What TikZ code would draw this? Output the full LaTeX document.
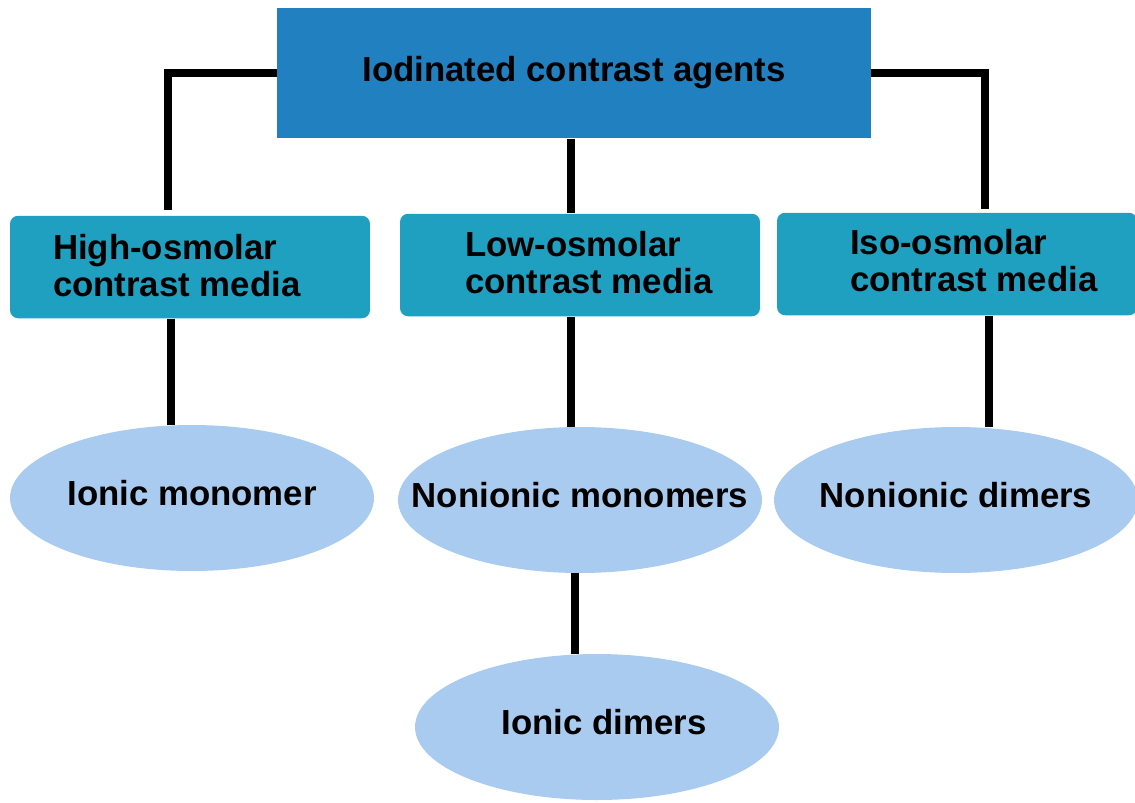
\documentclass[tikz,border=0pt]{standalone}
\usepackage{fontspec}
\setmainfont{Liberation Sans}
\usetikzlibrary{shapes.geometric, calc}
\definecolor{headblue}{RGB}{33,128,192}
\definecolor{boxteal}{RGB}{32,160,193}
\definecolor{ovalblue}{RGB}{169,203,239}
\tikzstyle{head} = [rectangle, minimum width=11.88cm, minimum height=2.62cm,
fill=headblue, font=\bfseries\fontsize{19.8}{24}\selectfont]
\tikzstyle{media} = [rectangle, rounded corners=0.16cm, minimum width=7.2cm,
minimum height=2.05cm, fill=boxteal]
\tikzstyle{mtext} = [anchor=west, inner sep=0pt, align=left, font=\bfseries\fontsize{19.8}{21}\selectfont]
\tikzstyle{kind} = [ellipse, inner xsep=-1.6cm, inner ysep=0pt, text depth=0.2cm,
minimum width=7.28cm, minimum height=2.92cm, fill=ovalblue,
font=\bfseries\fontsize{19.8}{24}\selectfont]
\tikzstyle{line} = [line width=0.17cm, -]

\begin{document}
\begin{tikzpicture}[x=0.02cm, y=-0.02cm]
        \useasboundingbox (0,0) rectangle (1135,802);
        \node (A) [head] at (574,73) {Iodinated contrast agents};
        \node (H) [media] at (190,267) {};
        \node (L) [media] at (580,265) {};
        \node (I) [media] at (957,264) {};
        \node (Ht) [mtext] at ([xshift=0.86cm, yshift=0.02cm]H.west) {High-osmolar\\contrast media};
        \node (Lt) [mtext] at ([xshift=1.3cm, yshift=0.04cm]L.west) {Low-osmolar\\contrast media};
        \node (It) [mtext] at ([xshift=1.46cm, yshift=0.06cm]I.west) {Iso-osmolar\\contrast media};
        \node (M) [kind] at (192,498) {Ionic monomer};
        \node (N) [kind] at (580,500) {Nonionic monomers};
        \node (D) [kind] at (956,500) {Nonionic dimers};
        \node (J) [kind] at (597,727) {\hspace{0.28cm}Ionic dimers};

        \coordinate (HH) at ([xshift=-0.44cm, yshift=0.1cm]H.north); % line meets box off centre
        \coordinate (II) at ([xshift=0.56cm, yshift=0.06cm]I.north);
        \coordinate (HM) at ([xshift=-0.38cm]H.south);
        \coordinate (LN) at ([xshift=-0.18cm]L.south);
        \coordinate (ID) at ([xshift=0.64cm]I.south);
        \coordinate (NJ) at ([xshift=-0.1cm]N.south);

        \draw [line] (A.west) -| (HH);
        \draw [line] (A.east) -| (II);
        \draw [line] ([xshift=-0.06cm]A.south) -- ([xshift=-0.06cm]A.south |- L.north);
        \draw [line] (HM) -- (HM |- M.north);
        \draw [line] (LN) -- (LN |- N.north);
        \draw [line] (ID) -- (ID |- D.north);
        \draw [line] (NJ) -- (NJ |- J.north);

    \end{tikzpicture}
\end{document}
